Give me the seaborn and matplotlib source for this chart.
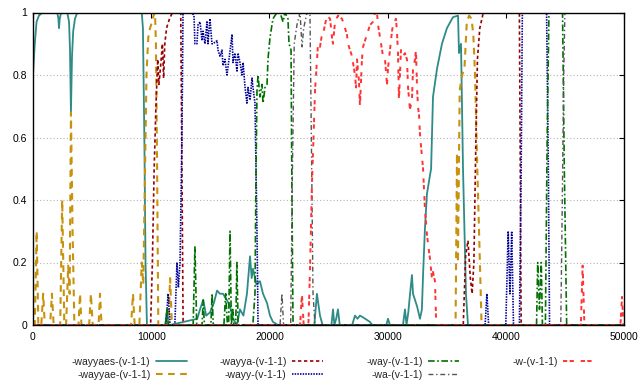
import matplotlib
matplotlib.use("Agg")
import matplotlib.pyplot as plt
import seaborn as sns

# ---- data ----
wayyaes_x = [0, 150, 300, 500, 800, 2050, 2150, 2200, 2260, 2380, 2900, 3050, 3130, 3210, 3300, 3400, 3550, 3750,
             4000, 9200, 9300, 9420, 9520, 9640, 11200, 11340, 11450, 11600, 13900, 14130, 14400, 14650, 14970,
             15300, 15570, 15820, 16070, 16400, 16670, 16920, 17250, 17510, 17800, 18100, 18360, 18500, 18610, 18900,
             19200, 19460, 19800, 20050, 20300, 20730, 23800, 24020, 24280, 24500, 25250, 25380, 25500, 25650, 25800,
             25950, 27000, 27240, 27450, 27660, 27900, 28500, 28700, 29900, 30030, 30200, 31300, 31470, 31600, 31750,
             31900, 32060, 32150, 32490, 32740, 32900, 33000, 33160, 33330, 33590, 33680, 33840, 34180, 34600, 35020,
             35530, 35960, 36040, 36210, 36380, 36630, 36800, 50000]
wayyaes_y = [0.8, 0.9, 0.97, 0.99, 1.0, 1.0, 0.98, 0.95, 0.98, 1.0, 1.0, 0.97, 0.88, 0.68, 0.86, 0.94, 0.98, 1.0,
             1.0, 1.0, 0.95, 0.6, 0.2, 0.0, 0.0, 0.05, 0.0, 0.0, 0.02, 0.05, 0.08, 0.03, 0.04,
             0.07, 0.11, 0.1, 0.1, 0.08, 0.06, 0.02, 0.0, 0.05, 0.03, 0.1, 0.22, 0.15, 0.18, 0.13,
             0.14, 0.1, 0.07, 0.03, 0.01, 0.0, 0.0, 0.1, 0.03, 0.0, 0.0, 0.05, 0.0, 0.02, 0.05,
             0.0, 0.0, 0.03, 0.02, 0.03, 0.025, 0.01, 0.0, 0.0, 0.02, 0.0, 0.0, 0.05, 0.0, 0.04,
             0.1, 0.16, 0.1, 0.06, 0.02, 0.05, 0.16, 0.31, 0.42, 0.48, 0.5, 0.73, 0.82, 0.9, 0.95,
             0.985, 0.99, 0.87, 0.9, 0.5, 0.1, 0.0, 0.0]

wayyae_x = [0, 150, 310, 450, 700, 860, 1000, 1450, 1600, 1750, 2300, 2470, 2650, 2800, 2980, 3100, 3210, 3350,
            3500, 3850, 3980, 4100, 4750, 4900, 5050, 5550, 5670, 5800, 8300, 8460, 8600, 9000, 9200, 9330, 9480,
            9600, 9750, 9900, 10070, 10200, 10320, 10400, 10500, 10600, 11450, 11600, 11750, 35750, 35870, 35950,
            36100, 36300, 36500, 36700, 36900, 37100, 37250, 37400, 37550, 37700, 37950, 50000]
wayyae_y = [0, 0, 0.3, 0, 0, 0.1, 0, 0, 0.1, 0, 0, 0.4, 0, 0, 0.19, 0.1, 0.68, 0.3,
            0, 0, 0.1, 0, 0, 0.1, 0, 0, 0.1, 0, 0, 0.1, 0, 0, 0.2, 0.13, 0.5,
            0.8, 0.92, 0.95, 0.97, 0.99, 1.0, 0.9, 0.5, 0, 0, 0.15, 0, 0, 0.55, 0.2,
            0.75, 0.8, 0.82, 0.97, 0.99, 0.98, 0.93, 0.8, 0.55, 0.35, 0, 0]

wayya_x = [0, 9950, 10100, 10250, 10400, 10550, 10650, 10800, 10950, 11050, 11150, 11300, 11550, 11800, 12200,
           12500, 12600, 12700, 36400, 36600, 36800, 37000, 37150, 37300, 37450, 37600, 37800, 38100, 41150, 41300,
           50000]
wayya_y = [0, 0, 0.2, 0.5, 0.7, 0.85, 0.77, 0.83, 0.9, 0.79, 0.9, 0.95, 0.98, 1.0, 1.0,
           1.0, 0.5, 0, 0, 0.22, 0.27, 0.15, 0.1, 0.2, 0.55, 0.85, 0.95, 1.0, 1.0, 0,
           0]

wayy_x = [0, 11250, 11430, 11600, 12000, 12180, 12300, 12440, 12600, 12690, 13450, 13620, 13700, 13870, 13960,
          14130, 14300, 14380, 14550, 14720, 14800, 14970, 15140, 15230, 15570, 15650, 15820, 15990, 16070, 16240,
          16410, 16580, 16840, 16920, 17090, 17260, 17340, 17510, 17680, 17770, 17940, 18100, 18190, 18360, 18530,
          18610, 18780, 18950, 19040, 38250, 38400, 38550, 40000, 40200, 40350, 40500, 40650, 41150, 41300, 41400,
          43450, 43600, 43700, 50000]
wayy_y = [0, 0, 0.1, 0, 0, 0.2, 0.12, 0.2, 0.6, 1.0, 1.0, 0.99, 0.9, 0.9, 0.96,
          0.97, 0.91, 0.94, 0.9, 0.97, 0.9, 0.98, 0.9, 0.9, 0.91, 0.88, 0.86, 0.88, 0.83, 0.85,
          0.8, 0.85, 0.93, 0.84, 0.87, 0.81, 0.87, 0.84, 0.8, 0.84, 0.76, 0.71, 0.76, 0.72, 0.79,
          0.76, 0.71, 0.3, 0, 0, 0.1, 0, 0, 0.3, 0.1, 0.3, 0, 0, 0.5, 1.0,
          1.0, 0.5, 0, 0]

way_x = [0, 11200, 11330, 11450, 13550, 13700, 13850, 14300, 14400, 14500, 15050, 15150, 15250, 16150, 16300,
         16450, 16550, 16670, 16780, 16900, 17000, 17150, 17250, 17350, 18600, 18780, 18870, 18950, 19040, 19200,
         19370, 19460, 19630, 19800, 19880, 20050, 20300, 20640, 20900, 21150, 21320, 21570, 21660, 21830, 21910,
         22000, 42600, 42700, 42850, 43000, 43100, 43350, 43500, 43650, 44800, 44950, 45150, 50000]
way_y = [0, 0, 0.05, 0, 0, 0.25, 0, 0, 0.08, 0, 0, 0.1, 0, 0, 0.1,
         0, 0, 0.3, 0, 0.05, 0, 0, 0.2, 0, 0, 0.1, 0.5, 0.75, 0.8, 0.73,
         0.77, 0.71, 0.76, 0.77, 0.85, 0.92, 0.98, 1.0, 1.0, 0.97, 1.0, 0.98, 0.9, 0.88, 0.4,
         0, 0, 0.2, 0.05, 0.2, 0, 0, 0.6, 1.0, 1.0, 0.5, 0, 0]

wa_x = [0, 20900, 21060, 21200, 21800, 21950, 22100, 22330, 22590, 22760, 22900, 23180, 23430, 23550, 23690, 23860,
        44650, 44750, 44900, 45000, 50000]
wa_y = [0, 0, 0.1, 0, 0, 0.5, 0.9, 0.96, 1.0, 0.89, 0.95, 1.0, 1.0, 0.6, 0.1, 0,
        0, 0.3, 0.8, 1.0, 1.0]

w_x = [0, 22600, 22750, 22900, 23300, 23450, 23600, 23750, 23860, 24030, 24110, 24280, 24450, 24530, 24700, 24870,
       25130, 25300, 25380, 25550, 25800, 26140, 26310, 26560, 26650, 26990, 27070, 27240, 27330, 27410, 27580,
       27660, 27830, 27920, 28260, 28510, 28760, 28930, 29100, 29190, 29360, 29530, 29610, 29780, 29950, 30030,
       30200, 30370, 30460, 30710, 30790, 30880, 30960, 31130, 31300, 31470, 31640, 31730, 31890, 32060, 32150,
       32320, 32400, 32490, 32570, 32660, 32740, 33000, 33160, 33330, 33420, 33590, 33750, 33840, 34010, 34090,
       34180, 46350, 46500, 46650, 49700, 49830, 49950, 50000]
w_y = [0, 0, 0.1, 0, 0, 0.2, 0.45, 0.62, 0.75, 0.85, 0.9, 0.89, 0.93, 0.93, 0.96, 0.99,
       0.98, 0.92, 0.9, 0.97, 0.99, 0.98, 0.96, 0.93, 0.9, 0.86, 0.84, 0.8, 0.76, 0.85, 0.78,
       0.7, 0.85, 0.89, 0.93, 0.96, 0.97, 1.0, 1.0, 0.96, 0.92, 0.88, 0.86, 0.85, 0.77, 0.82,
       0.88, 0.94, 0.96, 0.98, 0.94, 0.87, 0.72, 0.88, 0.86, 0.87, 0.85, 0.76, 0.69, 0.72, 0.82,
       0.85, 0.88, 0.76, 0.7, 0.67, 0.61, 0.5, 0.37, 0.29, 0.26, 0.21, 0.15, 0.17, 0.14, 0.03,
       0, 0, 0.19, 0, 0, 0.09, 0, 0]

labels = ["-wayyaes-(v-1-1)", "-wayyae-(v-1-1)", "-wayya-(v-1-1)", "-wayy-(v-1-1)",
          "-way-(v-1-1)", "-wa-(v-1-1)", "-w-(v-1-1)"]

series = [
    (wayyaes_x, wayyaes_y, "#2e8b88", "-", 1.3),
    (wayyae_x, wayyae_y, "#c8920e", (0, (3.2, 2.6)), 1.5),
    (wayya_x, wayya_y, "#990000", (0, (2.0, 1.6)), 1.2),
    (wayy_x, wayy_y, "#000099", (0, (0.9, 0.7)), 1.2),
    (way_x, way_y, "#007000", (0, (4.0, 1.5, 1.0, 1.5)), 1.2),
    (wa_x, wa_y, "#555555", (0, (3.5, 2.0, 1.0, 2.0)), 1.0),
    (w_x, w_y, "#ff3333", (0, (2.2, 1.2, 2.2, 3.5)), 1.4),
]

sns.set_style("white")
plt.rcParams['font.family'] = ['Liberation Sans', 'DejaVu Sans']

fig = plt.figure(figsize=(6.41, 3.88), dpi=100)
ax = fig.add_axes([33 / 641, 1 - 325 / 388, 591 / 641, 312.5 / 388])

for (xs, ys, col, ls, lw), lab in zip(series, labels):
    sns.lineplot(x=xs, y=ys, ax=ax, color=col, linestyle=ls, linewidth=lw,
                 estimator=None, sort=False, label=lab, legend=False)

ax.set_xlim(0, 50000)
ax.set_ylim(0, 1)
ax.set_xticks([0, 10000, 20000, 30000, 40000, 50000])
ax.set_xticklabels(["0", "10000", "20000", "30000", "40000", "50000"])
ax.set_yticks([0, 0.2, 0.4, 0.6, 0.8, 1])
ax.set_yticklabels(["0", "0.2", "0.4", "0.6", "0.8", "1"])
ax.set_xlabel("")
ax.set_ylabel("")
ax.tick_params(direction="in", top=True, right=True, length=3.6, width=0.8,
               labelsize=7.5, colors="black")
ax.tick_params(axis="x", pad=5)
ax.tick_params(axis="y", pad=4)
ax.yaxis.grid(True, linestyle=(0, (1, 2)), color="#b4b4b4", linewidth=0.8)
ax.xaxis.grid(False)
for sp in ax.spines.values():
    sp.set_color("black")
    sp.set_linewidth(1.0)

# gnuplot-like legend: four fixed-width columns, text right-aligned before the sample
lines = ax.get_lines()
groups = [[0, 1], [2, 3], [4, 5], [6]]
col_right = [187, 323, 459, 594]
for grp, xr in zip(groups, col_right):
    fig.legend([lines[i] for i in grp], [labels[i] for i in grp],
               loc="upper right", bbox_to_anchor=(xr / 641, 1 - 357 / 388),
               frameon=False, markerfirst=False, fontsize=7.5,
               handlelength=3.0, handletextpad=0.5, labelspacing=0.25,
               borderpad=0, borderaxespad=0)

fig.savefig("out.png", dpi=100)
